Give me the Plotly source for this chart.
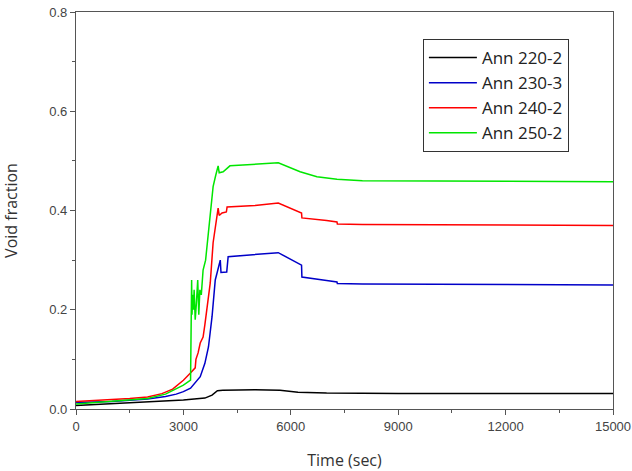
import plotly.graph_objects as go

# ---- data ----
t_220 = [0, 1000, 2000, 3000, 3600, 3800, 3950, 4100, 5000, 5700, 6200, 7000, 9000, 15000]
v_220 = [0.007, 0.011, 0.014, 0.018, 0.022, 0.028, 0.037, 0.038, 0.039, 0.038, 0.034, 0.032, 0.031, 0.031]

t_230 = [0, 1000, 2000, 2500, 2800, 3000, 3200, 3470, 3600, 3700, 3800, 3890, 3940, 4000, 4030, 4050,
         4210, 4250, 5000, 5650, 6300, 6310, 7000, 7290, 7300, 8000, 15000]
v_230 = [0.013, 0.015, 0.020, 0.025, 0.030, 0.035, 0.042, 0.065, 0.092, 0.125, 0.186, 0.26, 0.274, 0.29, 0.30, 0.275,
         0.276, 0.307, 0.311, 0.315, 0.29, 0.266, 0.259, 0.256, 0.253, 0.252, 0.25]

t_240 = [0, 1000, 1500, 2000, 2400, 2700, 3000, 3190, 3330, 3350, 3410, 3470, 3550, 3600, 3660, 3750, 3830, 3940,
         3970, 4000, 4080, 4200, 4220, 5000, 5650, 6300, 6310, 7000, 7290, 7300, 8000, 15000]
v_240 = [0.015, 0.018, 0.021, 0.024, 0.031, 0.040, 0.058, 0.072, 0.083, 0.10, 0.113, 0.133, 0.145, 0.17, 0.20, 0.254, 0.335, 0.388,
         0.405, 0.39, 0.395, 0.397, 0.407, 0.41, 0.415, 0.395, 0.385, 0.38, 0.377, 0.373, 0.372, 0.370]

t_250 = [0, 1000, 2000, 2500, 2800, 3000, 3200, 3230, 3240, 3260, 3280, 3300, 3330, 3360, 3400, 3430, 3460,
         3500, 3550, 3620, 3700, 3830, 3900, 3940, 3970, 4000, 4110, 4300, 5000, 5650, 6260,
         6730, 7290, 8000, 15000]
v_250 = [0.010, 0.015, 0.021, 0.030, 0.040, 0.048, 0.058, 0.26, 0.19, 0.23, 0.20, 0.24, 0.18, 0.21, 0.26, 0.19, 0.24,
         0.23, 0.28, 0.30, 0.355, 0.448, 0.47, 0.48, 0.49, 0.476, 0.478, 0.49, 0.493, 0.496, 0.478,
         0.468, 0.463, 0.460, 0.458]

names = ["Ann 220-2", "Ann 230-3", "Ann 240-2", "Ann 250-2"]
colors = ["#000000", "#0000c8", "#ff0000", "#00e600"]
series = [(t_220, v_220), (t_230, v_230), (t_240, v_240), (t_250, v_250)]

x_ticks = [0, 3000, 6000, 9000, 12000, 15000]
y_ticks = [0.0, 0.2, 0.4, 0.6, 0.8]

fig = go.Figure()
for (t, v), n, c in zip(series, names, colors):
    fig.add_trace(go.Scatter(x=t, y=v, mode="lines", name=n, legendgroup=n,
                             line=dict(color=c, width=1.5)))

axis_common = dict(
    showline=True, linecolor="#555555", linewidth=1.3, mirror=True, automargin=False,
    showgrid=False, zeroline=False, ticks="outside", ticklen=5, tickwidth=1.2,
    tickcolor="#555555", tickfont=dict(family="Liberation Sans, Arial", size=13, color="#444444"),
    ticklabeloverflow="allow",
)

fig.update_xaxes(range=[0, 15000], tickvals=x_ticks, ticktext=[str(v) for v in x_ticks],
                 minor=dict(dtick=1500, ticks="outside", ticklen=3, tickcolor="#555555"),
                 title=dict(text="Time (sec)", font=dict(family="Open Sans", size=16, color="#333333"),
                            standoff=22),
                 **axis_common)
fig.update_yaxes(range=[0, 0.8], tickvals=y_ticks, ticktext=[f"{v:.1f}" for v in y_ticks],
                 minor=dict(dtick=0.1, ticks="outside", ticklen=3, tickcolor="#555555"),
                 title=dict(text="Void fraction", font=dict(family="Open Sans", size=16, color="#333333"),
                            standoff=32),
                 **axis_common)

fig.update_layout(
    width=632, height=471,
    margin=dict(l=76, r=19, t=12, b=62),
    paper_bgcolor="white", plot_bgcolor="white",
    showlegend=True,
    legend=dict(x=0.646, y=0.932, xanchor="left", yanchor="top",
                bordercolor="#333333", borderwidth=1, bgcolor="white",
                font=dict(family="Open Sans", size=17, color="#222222"),
                tracegroupgap=0, itemwidth=48),
)

fig.write_html("out.html")
